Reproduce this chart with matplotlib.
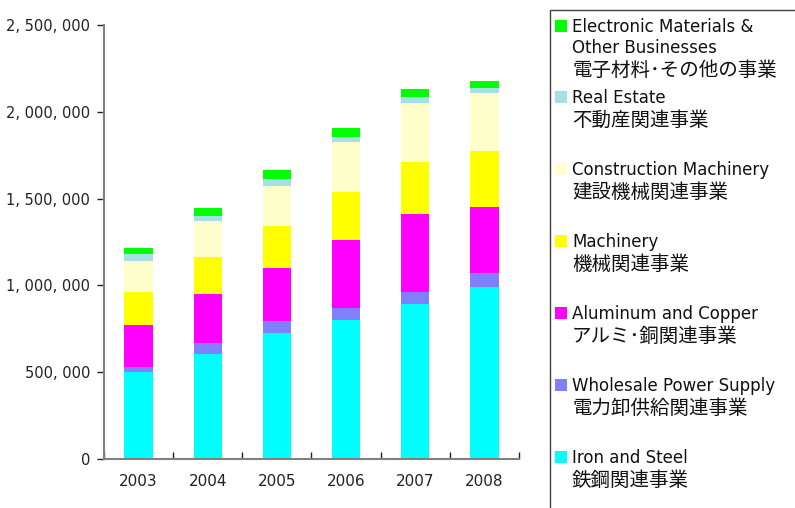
import matplotlib
matplotlib.use("Agg")
import matplotlib.pyplot as plt
from matplotlib.patches import Rectangle
from matplotlib.ticker import FuncFormatter
import numpy as np

years = ["2003", "2004", "2005", "2006", "2007", "2008"]
iron = [501000, 605000, 726000, 800000, 893000, 991000]
wholesale = [30000, 63000, 69000, 70000, 69000, 80000]
aluminum = [242000, 282000, 307000, 391000, 449000, 381000]
machinery = [190000, 213000, 240000, 277000, 300000, 322000]
construction = [178000, 208000, 230000, 288000, 340000, 334000]
real_estate = [41000, 29000, 41000, 29000, 34000, 29000]
electronic = [34000, 46000, 52000, 52000, 46000, 40000]

series = [iron, wholesale, aluminum, machinery, construction, real_estate, electronic]
colors = ["#00FFFF", "#8080FF", "#FF00FF", "#FFFF00", "#FFFFCC", "#A6E0E2", "#00FF00"]
labels_en = [
    ["Iron and Steel"],
    ["Wholesale Power Supply"],
    ["Aluminum and Copper"],
    ["Machinery"],
    ["Construction Machinery"],
    ["Real Estate"],
    ["Electronic Materials &", "Other Businesses"],
]
labels_jp = [
    "鉄鋼関連事業",
    "電力卸供給関連事業",
    "アルミ･銅関連事業",
    "機械関連事業",
    "建設機械関連事業",
    "不動産関連事業",
    "電子材料･その他の事業",
]
yticks = [0, 500000, 1000000, 1500000, 2000000, 2500000]

W, H = 795, 508
fig = plt.figure(figsize=(W / 100, H / 100), dpi=100)
fig.patch.set_facecolor("white")
ax = fig.add_axes([104 / W, 1 - 459 / H, (519 - 104) / W, (459 - 25) / H])

x = np.arange(len(years))
bottom = np.zeros(len(years))
for vals, c in zip(series, colors):
    ax.bar(x, vals, width=0.41, bottom=bottom, color=c, edgecolor="none", linewidth=0, zorder=2)
    bottom += np.array(vals)

ax.set_xlim(-0.5, len(years) - 0.5)
ax.set_ylim(0, 2500000)
ax.set_yticks(yticks)
ax.yaxis.set_major_formatter(FuncFormatter(lambda v, p: f"{int(v):,}".replace(",", ", ")))
ax.set_xticks(x)
ax.set_xticklabels(years)
ax.set_xticks(np.arange(-0.5, len(years), 1.0), minor=True)
ax.tick_params(axis="x", which="major", length=0, pad=11, labelsize=11, labelcolor="#222222")
ax.tick_params(axis="x", which="minor", direction="in", length=5, color="#222222", width=1)
ax.tick_params(axis="y", direction="out", length=5, color="#222222", width=1,
               labelsize=10.5, labelcolor="#222222", pad=5)
for s in ["top", "right"]:
    ax.spines[s].set_visible(False)
for s in ["left", "bottom"]:
    ax.spines[s].set_color("#808080")
    ax.spines[s].set_linewidth(1.5)

# legend frame
fig.patches.append(Rectangle((550 / W, -0.05), 300 / W, 1 - 10 / H + 0.05,
                             transform=fig.transFigure, facecolor="none",
                             edgecolor="#404040", linewidth=1.0))

def fy(py):
    return 1 - py / H

latin = ["DejaVu Sans", "Noto Sans CJK JP"]
cjk = ["Noto Sans CJK JP", "DejaVu Sans"]
order = list(range(len(series)))[::-1]  # top entry is last series
for idx, k in enumerate(order):
    if idx == 0:
        base = 31.7
    else:
        base = 102.7 + 72 * (idx - 1)
    fig.patches.append(Rectangle((555 / W, fy(base)), 12 / W, 12 / H,
                                 transform=fig.transFigure, facecolor=colors[k],
                                 edgecolor="none"))
    b = base
    for j, line in enumerate(labels_en[k]):
        b = base + 21 * j
        fig.text(572 / W, fy(b), line, fontsize=12, family=latin,
                 va="baseline", ha="left", color="#111111")
    fig.text(572 / W, fy(b + 23), labels_jp[k], fontsize=14, family=cjk,
             va="baseline", ha="left", color="#111111")

fig.savefig("out.png", dpi=100)
